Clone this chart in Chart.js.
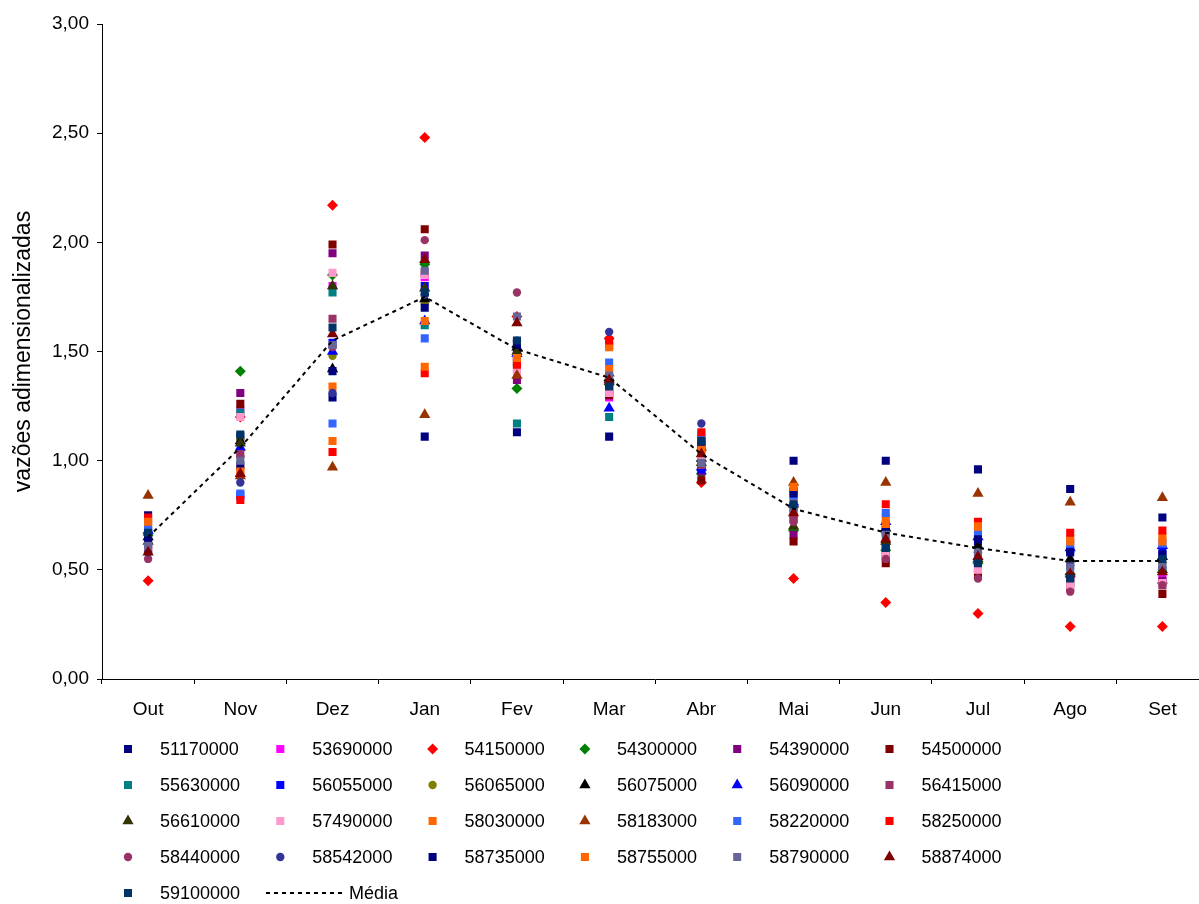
<!DOCTYPE html>
<html>
<head>
<meta charset="utf-8">
<script src="https://cdn.jsdelivr.net/npm/chart.js@4/dist/chart.umd.min.js"></script>
<style>
  html, body { margin: 0; padding: 0; background: #fff; overflow: hidden; }
  /* o eixo das categorias continua além da borda direita */
  #wrap { width: 1215px; height: 904px; position: relative; }
</style>
</head>
<body>
<div id="wrap"><canvas id="chart"></canvas></div>
<script>
// meses do ano hidrológico
const meses = ['Out', 'Nov', 'Dez', 'Jan', 'Fev', 'Mar', 'Abr', 'Mai', 'Jun', 'Jul', 'Ago', 'Set'];

// vazões mensais adimensionalizadas por estação
const v51170000 = [0.75, 1.11, 1.29, 1.11, 1.13, 1.11, 1.07, 1.00, 1.00, 0.96, 0.87, 0.74];
const v53690000 = [0.66, 1.23, 1.80, 1.84, 1.48, 1.29, 0.97, 0.73, 0.61, 0.54, 0.47, 0.46];
const v54150000 = [0.45, 1.20, 2.17, 2.48, 1.66, 1.56, 0.90, 0.46, 0.35, 0.30, 0.24, 0.24];
const v54300000 = [0.66, 1.41, 1.85, 1.90, 1.33, 1.36, 0.94, 0.68, 0.59, 0.53, 0.48, 0.44];
const v54390000 = [0.62, 1.31, 1.95, 1.94, 1.37, 1.31, 0.95, 0.66, 0.58, 0.51, 0.46, 0.45];
const v54500000 = [0.60, 1.26, 1.99, 2.06, 1.45, 1.30, 0.91, 0.63, 0.53, 0.48, 0.42, 0.39];
const v55630000 = [0.67, 1.22, 1.77, 1.62, 1.17, 1.20, 1.09, 0.76, 0.62, 0.58, 0.52, 0.50];
const v56055000 = [0.68, 0.84, 1.54, 1.80, 1.51, 1.33, 0.96, 0.79, 0.70, 0.63, 0.59, 0.58];
const v56065000 = [0.64, 1.10, 1.48, 1.72, 1.44, 1.37, 1.00, 0.74, 0.66, 0.60, 0.54, 0.53];
const v56075000 = [0.65, 1.09, 1.42, 1.74, 1.52, 1.38, 1.01, 0.80, 0.69, 0.61, 0.55, 0.56];
const v56090000 = [0.68, 1.06, 1.50, 1.64, 1.49, 1.24, 0.97, 0.81, 0.72, 0.65, 0.60, 0.61];
const v56415000 = [0.59, 1.03, 1.65, 1.86, 1.42, 1.53, 0.98, 0.74, 0.56, 0.50, 0.44, 0.43];
const v56610000 = [0.63, 1.08, 1.80, 1.79, 1.50, 1.36, 0.99, 0.70, 0.63, 0.55, 0.49, 0.50];
const v57490000 = [0.60, 1.20, 1.86, 1.85, 1.41, 1.31, 1.02, 0.77, 0.57, 0.50, 0.43, 0.44];
const v58030000 = [0.71, 0.96, 1.34, 1.64, 1.46, 1.52, 1.12, 0.82, 0.74, 0.68, 0.64, 0.65];
const v58183000 = [0.84, 0.93, 0.97, 1.21, 1.39, 1.40, 1.06, 0.90, 0.90, 0.85, 0.81, 0.83];
const v58220000 = [0.70, 0.85, 1.17, 1.56, 1.47, 1.45, 1.10, 0.84, 0.76, 0.66, 0.62, 0.62];
const v58250000 = [0.74, 0.82, 1.04, 1.40, 1.44, 1.55, 1.13, 0.86, 0.80, 0.72, 0.67, 0.68];
const v58440000 = [0.55, 1.02, 1.52, 2.01, 1.77, 1.35, 1.04, 0.72, 0.55, 0.46, 0.40, 0.43];
const v58542000 = [0.58, 0.90, 1.31, 1.76, 1.55, 1.59, 1.17, 0.87, 0.67, 0.58, 0.52, 0.51];
const v58735000 = [0.64, 0.98, 1.41, 1.70, 1.53, 1.35, 1.08, 0.85, 0.68, 0.64, 0.58, 0.57];
const v58755000 = [0.72, 0.95, 1.09, 1.43, 1.47, 1.42, 1.05, 0.88, 0.71, 0.70, 0.63, 0.63];
const v58790000 = [0.61, 1.00, 1.53, 1.87, 1.66, 1.39, 0.99, 0.78, 0.66, 0.58, 0.51, 0.52];
const v58874000 = [0.58, 0.94, 1.58, 1.92, 1.63, 1.37, 1.03, 0.76, 0.64, 0.56, 0.48, 0.49];
const v59100000 = [0.67, 1.12, 1.61, 1.77, 1.55, 1.34, 1.09, 0.80, 0.60, 0.53, 0.46, 0.55];
const media     = [0.65, 1.06, 1.55, 1.75, 1.51, 1.38, 1.03, 0.78, 0.67, 0.60, 0.54, 0.54];

const yTicks = [0, 0.5, 1, 1.5, 2, 2.5, 3];

// estação, valores, cor, marcador
const estacoes = [
  ['51170000', v51170000, '#000080', 'rect'],
  ['53690000', v53690000, '#FF00FF', 'rect'],
  ['54150000', v54150000, '#FF0000', 'rectRot'],
  ['54300000', v54300000, '#008000', 'rectRot'],
  ['54390000', v54390000, '#800080', 'rect'],
  ['54500000', v54500000, '#800000', 'rect'],
  ['55630000', v55630000, '#008080', 'rect'],
  ['56055000', v56055000, '#0000FF', 'rect'],
  ['56065000', v56065000, '#808000', 'circle'],
  ['56075000', v56075000, '#000000', 'triangle'],
  ['56090000', v56090000, '#0000FF', 'triangle'],
  ['56415000', v56415000, '#993366', 'rect'],
  ['56610000', v56610000, '#333300', 'triangle'],
  ['57490000', v57490000, '#FF99CC', 'rect'],
  ['58030000', v58030000, '#FF6600', 'rect'],
  ['58183000', v58183000, '#993300', 'triangle'],
  ['58220000', v58220000, '#3366FF', 'rect'],
  ['58250000', v58250000, '#FF0000', 'rect'],
  ['58440000', v58440000, '#993366', 'circle'],
  ['58542000', v58542000, '#333399', 'circle'],
  ['58735000', v58735000, '#000080', 'rect'],
  ['58755000', v58755000, '#FF6600', 'rect'],
  ['58790000', v58790000, '#666699', 'rect'],
  ['58874000', v58874000, '#800000', 'triangle'],
  ['59100000', v59100000, '#003366', 'rect'],
];

const FONT = 'Arial, "Liberation Sans", sans-serif';
const raio = { rect: 5.7, rectRot: 5.5, triangle: 6.5, circle: 4.2 };

const datasets = estacoes.map(([nome, vals, cor, estilo], i) => ({
  label: nome,
  data: vals,
  showLine: false,
  pointStyle: estilo,
  pointRadius: raio[estilo],
  pointBackgroundColor: cor,
  pointBorderColor: cor,
  pointBorderWidth: 0,
  order: -i, // séries seguintes ficam por cima
}));

datasets.push({
  label: 'Média',
  data: media,
  borderColor: '#000',
  borderWidth: 2,
  borderDash: [4, 4],
  pointRadius: 0,
  fill: false,
  tension: 0,
  order: -estacoes.length,
});

// desenha um marcador simples
function marcador(ctx, estilo, x, y, r, cor) {
  ctx.fillStyle = cor;
  ctx.beginPath();
  if (estilo === 'rect') {
    const s = r * Math.SQRT1_2;
    ctx.rect(x - s, y - s, 2 * s, 2 * s);
  } else if (estilo === 'rectRot') {
    ctx.moveTo(x, y - r); ctx.lineTo(x + r, y); ctx.lineTo(x, y + r); ctx.lineTo(x - r, y);
  } else if (estilo === 'triangle') {
    ctx.moveTo(x, y - r); ctx.lineTo(x + r * 0.866, y + r * 0.5); ctx.lineTo(x - r * 0.866, y + r * 0.5);
  } else {
    ctx.arc(x, y, r, 0, Math.PI * 2);
  }
  ctx.closePath();
  ctx.fill();
}

// legenda em grade de 6 colunas, abaixo do gráfico
const legenda = {
  id: 'legenda',
  afterDraw(chart) {
    const ctx = chart.ctx;
    ctx.save();
    ctx.font = '18px ' + FONT;
    ctx.textBaseline = 'middle';
    ctx.textAlign = 'left';
    estacoes.forEach(([nome, , cor, estilo], i) => {
      const col = i % 6, row = Math.floor(i / 6);
      const x = 128 + col * 152.3;
      const y = 749 + row * 36;
      marcador(ctx, estilo, x, y, raio[estilo], cor);
      ctx.fillStyle = '#000';
      ctx.fillText(nome, x + 32, y + 1);
    });
    // entrada da média
    const y = 749 + 4 * 36;
    ctx.strokeStyle = '#000';
    ctx.lineWidth = 2;
    ctx.setLineDash([4, 4]);
    ctx.beginPath();
    ctx.moveTo(266, y);
    ctx.lineTo(344, y);
    ctx.stroke();
    ctx.setLineDash([]);
    ctx.fillStyle = '#000';
    ctx.fillText('Média', 349, y + 1);
    ctx.restore();
  }
};

new Chart(document.getElementById('chart'), {
  type: 'line',
  data: { labels: meses, datasets: datasets },
  options: {
    responsive: true,
    maintainAspectRatio: false,
    animation: false,
    layout: { padding: { top: 24, right: 0, bottom: 0, left: 0 } },
    plugins: {
      legend: { display: false },
      tooltip: { enabled: false },
    },
    scales: {
      x: {
        offset: true,
        grid: { offset: true, drawOnChartArea: false, tickLength: 5, color: '#000' },
        border: { color: '#000', width: 1 },
        ticks: { color: '#000', font: { family: FONT, size: 19 }, padding: 14, maxRotation: 0 },
        afterFit: (s) => { s.height = 225; },
      },
      y: {
        min: 0,
        max: 3,
        afterBuildTicks: (s) => { s.ticks = yTicks.map(v => ({ value: v })); },
        grid: { drawOnChartArea: false, tickLength: 5, color: '#000' },
        border: { color: '#000', width: 1 },
        ticks: {
          color: '#000',
          font: { family: FONT, size: 19 },
          padding: 8,
          callback: (v) => Number(v).toFixed(2).replace('.', ','),
        },
        title: {
          display: true,
          text: 'vazões adimensionalizadas',
          color: '#000',
          font: { family: FONT, size: 23 },
          padding: { top: 10, bottom: 0 },
        },
        afterFit: (s) => { s.width = 102; },
      },
    },
  },
  plugins: [legenda],
});
</script>
</body>
</html>
